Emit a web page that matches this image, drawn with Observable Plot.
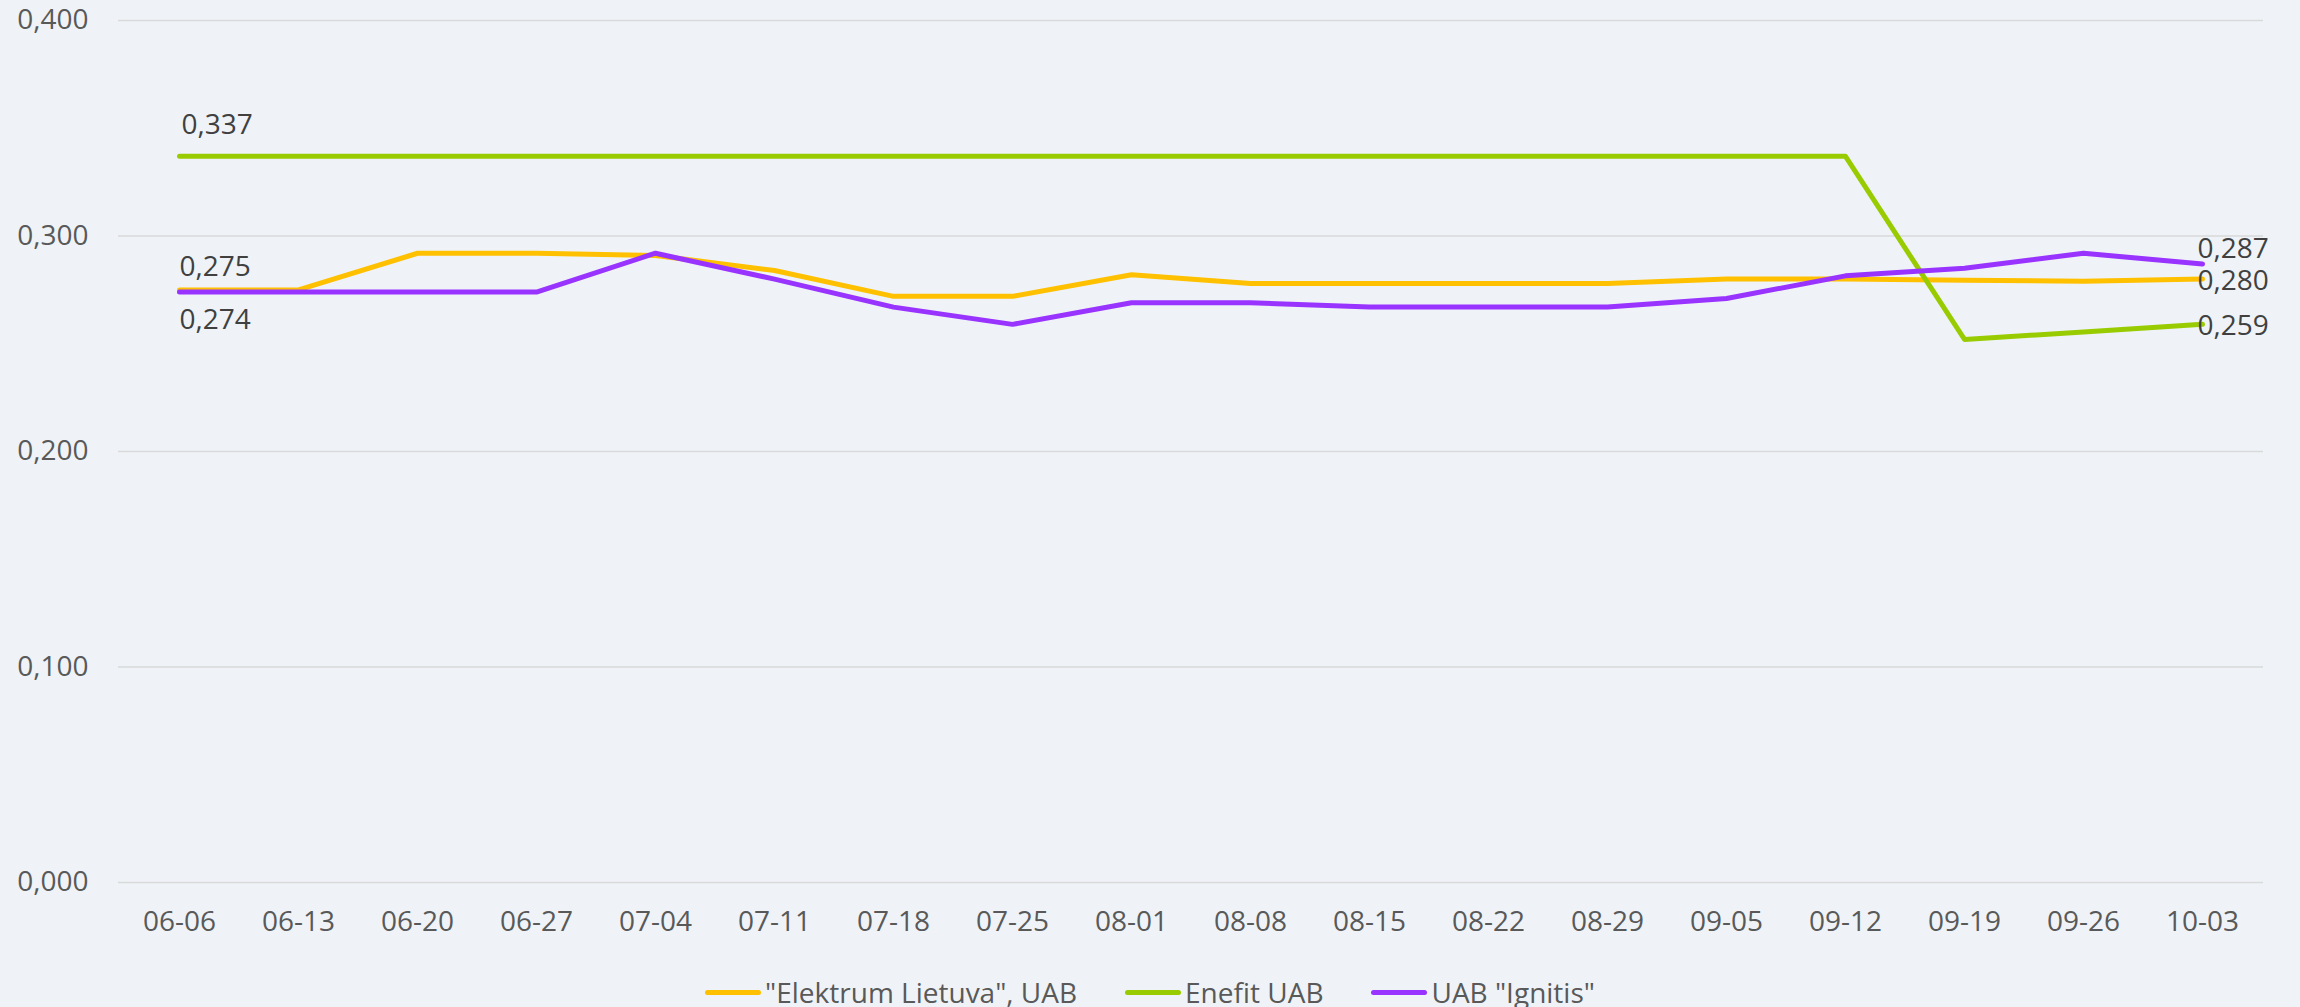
<!DOCTYPE html>
<html><head><meta charset="utf-8">
<script src="https://cdn.jsdelivr.net/npm/d3@7"></script>
<script src="https://cdn.jsdelivr.net/npm/@observablehq/plot@0.6"></script>
<style>
html,body{margin:0;padding:0;background:#eff3f7;}
body{width:2300px;height:1007px;overflow:hidden;font-family:"Open Sans",sans-serif;}
#chart svg{display:block;}
#legend{height:64px;box-sizing:border-box;display:flex;justify-content:center;align-items:center;font-size:28px;line-height:1;color:#595959;font-family:"Open Sans",sans-serif;}
.item{display:flex;align-items:center;margin:0 24px;}
.sw{display:inline-block;width:56px;height:5px;border-radius:3px;margin-right:4px;}
</style></head><body>
<div id="chart"></div>
<div id="legend"></div>
<script>
const dates = ["06-06","06-13","06-20","06-27","07-04","07-11","07-18","07-25","08-01","08-08","08-15","08-22","08-29","09-05","09-12","09-19","09-26","10-03"];
const elektrum = [0.275,0.275,0.292,0.292,0.291,0.284,0.272,0.272,0.282,0.278,0.278,0.278,0.278,0.280,0.280,0.2795,0.279,0.280];
const enefit   = [0.337,0.337,0.337,0.337,0.337,0.337,0.337,0.337,0.337,0.337,0.337,0.337,0.337,0.337,0.337,0.252,0.2555,0.259];
const ignitis  = [0.274,0.274,0.274,0.274,0.292,0.280,0.267,0.259,0.269,0.269,0.267,0.267,0.267,0.271,0.2815,0.285,0.292,0.287];
const seriesNames = ["\"Elektrum Lietuva\", UAB","Enefit UAB","UAB \"Ignitis\""];
const seriesColors = ["#ffc000","#99cc00","#9933ff"];
const seriesValues = [elektrum, enefit, ignitis];
const yTicks = [0,0.1,0.2,0.3,0.4];

const fmt = v => d3.format(".3f")(v).replace(".", ",");
const rows = seriesValues.map(vals => dates.map((d,i)=>({date:d, value:vals[i]})));

// label placement: [series index, point index, dx, dy]
const labelSpecs = [[1,0,2,-31],[0,0,0,-23],[2,0,0,28],[2,17,-5,-15],[0,17,-5,2],[1,17,-5,2]];

const marks = [
  Plot.gridY(yTicks, {stroke:"#d9d9d9", strokeOpacity:1, strokeWidth:1.5}),
  Plot.axisY(yTicks, {tickSize:0, tickPadding:30, tickFormat:fmt, fill:"#595959"}),
  Plot.axisX({tickSize:0, tickPadding:29, fill:"#595959"}),
  ...rows.map((r,k)=>Plot.line(r,{x:"date", y:"value", stroke:seriesColors[k], strokeWidth:5, strokeLinecap:"round", strokeLinejoin:"round"})),
  ...labelSpecs.map(([s,i,dx,dy])=>Plot.text([rows[s][i]],{x:"date", y:"value", text:d=>fmt(d.value), textAnchor:"start", dx, dy, fill:"#404040", fontSize:28}))
];

const chart = Plot.plot({
  width:2300, height:960,
  marginLeft:118, marginRight:37, marginTop:20, marginBottom:78,
  x:{type:"point", domain:dates, padding:0.5, label:null},
  y:{domain:[0,0.4], label:null},
  style:{background:"transparent", fontFamily:"Open Sans", fontSize:"28px", color:"#595959"},
  marks
});
document.getElementById("chart").appendChild(chart);

const lg = document.getElementById("legend");
seriesNames.forEach((n,k)=>{
  const it = document.createElement("div"); it.className="item";
  const sw = document.createElement("span"); sw.className="sw"; sw.style.background=seriesColors[k];
  const tx = document.createElement("span"); tx.textContent=n;
  it.appendChild(sw); it.appendChild(tx); lg.appendChild(it);
});
</script>
</body></html>
